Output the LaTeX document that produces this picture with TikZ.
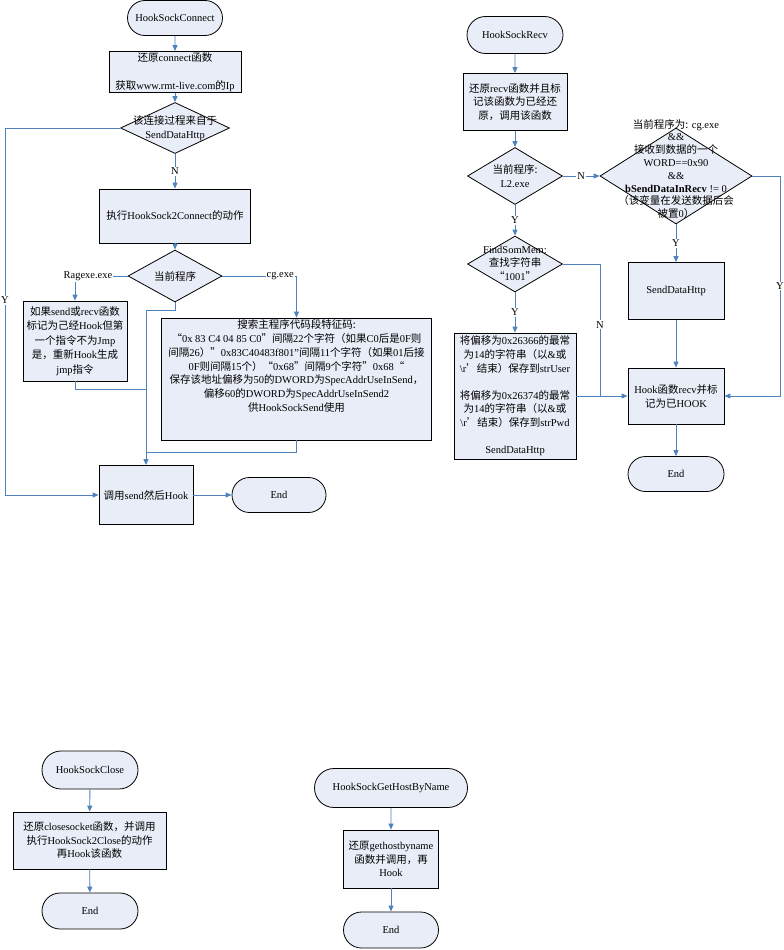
\documentclass[tikz,border=0pt]{standalone}
\usepackage{fontspec}
\setmainfont{Liberation Serif}
\newfontfamily\cjk{Noto Sans CJK SC}
\usetikzlibrary{shapes.geometric,shapes.misc,arrows.meta}
\definecolor{boxfill}{RGB}{232,237,247}
\definecolor{lineblue}{RGB}{79,129,189}
\newcommand\zhf[1]{{\cjk #1}}
\newcommand\fsz[1]{\fontsize{10.5}{#1}\selectfont}
\tikzset{
  shp/.style={draw=black, line width=0.8pt, fill=boxfill, inner sep=0pt},
  term/.style={shp, rounded rectangle},
  proc/.style={shp, rectangle, align=center},
  dec/.style={shp, diamond},
  txt/.style={align=center, inner sep=0pt, font=\fsz{13.5}},
  conn/.style={draw=lineblue, line width=0.9pt},
  arr/.style={conn, -{Triangle[length=6pt,width=5pt]}},
  lab/.style={fill=white, inner sep=1pt, font=\fsz{12}},
}
\begin{document}
\begin{tikzpicture}[x=1pt,y=-1pt, font=\fsz{13.5}]
\useasboundingbox[fill=white] (0,0) rectangle (784,950);

% ---------------- HookSockConnect ----------------
\node[term, minimum width=95pt, minimum height=35pt] (s1) at (175,18) {HookSockConnect};
\node[proc, minimum width=132pt, minimum height=41pt, font=\fsz{14}] (b1) at (175,72)
  {\zhf{还原}connect\zhf{函数}\\[14pt]\zhf{获取}www.rmt-live.com\zhf{的}Ip};
\node[dec, minimum width=109pt, minimum height=51pt] (d1) at (175,128) {};
\node[txt] (d1t) at (175,128) {\zhf{该连接过程来自于}\\SendDataHttp};
\node[proc, minimum width=151pt, minimum height=54pt] (b2) at (175,216) {\zhf{执行}HookSock2Connect\zhf{的动作}};
\node[dec, minimum width=94pt, minimum height=52pt] (d2) at (175,276) {};
\node[txt] (d2t) at (175,276) {\zhf{当前程序}};
\node[proc, minimum width=104pt, minimum height=80pt, font=\fsz{14.5}] (b3) at (75,341)
  {\zhf{如果}send\zhf{或}recv\zhf{函数}\\\zhf{标记为己经}Hook\zhf{但第}\\\zhf{一个指令不为}Jmp\\\zhf{是，重新}Hook\zhf{生成}\\jmp\zhf{指令}};
\node[proc, minimum width=270pt, minimum height=122pt] (b4) at (296.5,379) {};
\node[txt, font=\fsz{13.8}] (b4t) at (296.5,366)
  {\zhf{搜索主程序代码段特征码:}\\
   \zhf{“}0x 83 C4 04 85 C0\zhf{”间隔}22\zhf{个字符（如果}C0\zhf{后是}0F\zhf{则}\\
   \zhf{间隔}26\zhf{）”}0x83C40483f801"\zhf{间隔}11\zhf{个字符（如果}01\zhf{后接}\\
   0F\zhf{则间隔}15\zhf{个）“}0x68\zhf{”间隔}9\zhf{个字符”}0x68\zhf{“}\\
   \zhf{保存该地址偏移为}50\zhf{的}DWORD\zhf{为}SpecAddrUseInSend\zhf{，}\\
   \zhf{偏移}60\zhf{的}DWORD\zhf{为}SpecAddrUseInSend2\\
   \zhf{供}HookSockSend\zhf{使用}};
\node[proc, minimum width=94pt, minimum height=59pt] (b5) at (146,495) {\zhf{调用}send\zhf{然后}Hook};
\node[term, minimum width=94pt, minimum height=35pt] (e1) at (279,495) {End};
\coordinate (c1) at (5,128);
\coordinate (j1) at (146,389);
\coordinate (j2) at (146,452);

\draw[arr] (s1) -- (b1);
\draw[arr] (b1) -- (d1);
\draw[arr] (d1) -- node[lab]{N} (b2);
\draw[arr] (b2) -- (d2);
\draw[arr] (d2.west) -| node[lab, pos=0.377]{Ragexe.exe} (b3.north);
\draw[arr] (d2.east) -| node[lab, pos=0.39]{cg.exe} (b4.north);
\draw[arr] (d2.south) -- ++(0,8) -| (b5.north);
\draw[conn] (b3.south) |- (j1);
\draw[conn] (b4.south) |- (j2);
\draw[arr] (d1.west) -- (c1) |- node[lab, pos=0.235]{Y} (b5.west);
\draw[arr] (b5) -- (e1);

% ---------------- HookSockRecv ----------------
\node[term, minimum width=96pt, minimum height=37pt] (s2) at (515,35) {HookSockRecv};
\node[proc, minimum width=104pt, minimum height=57pt] (r1) at (515,102)
  {\zhf{还原}recv\zhf{函数并且标}\\\zhf{记该函数为已经还}\\\zhf{原，调用该函数}};
\node[dec, minimum width=95pt, minimum height=57pt] (rd1) at (515,176) {};
\node[txt] (rd1t) at (515,176) {\zhf{当前程序:}\\L2.exe};
\node[dec, minimum width=152pt, minimum height=96pt] (rd2) at (676,176) {};
\node[txt, font=\fsz{12.8}] (rd2t) at (676,169)
  {\zhf{当前程序为:} cg.exe\\\&\&\\\zhf{接收到数据的一个}\\WORD==0x90\\\&\&\\\textbf{bSendDataInRecv} != 0\\\zhf{（该变量在发送数据后会}\\\zhf{被置}0\zhf{）}};
\node[dec, minimum width=95pt, minimum height=56pt] (rd3) at (515,264) {};
\node[txt] (rd3t) at (515,263) {FindSomMem:\\\zhf{查找字符串}\\\zhf{“}1001\zhf{”}};
\node[proc, minimum width=122pt, minimum height=126pt, font=\fsz{13.6}] (r4) at (515,396)
  {\zhf{将偏移为}0x26366\zhf{的最常}\\\zhf{为}14\zhf{的字符串（以}\&\zhf{或}\\\textbackslash r\zhf{’结束）保存到}strUser\\[13.6pt]
   \zhf{将偏移为}0x26374\zhf{的最常}\\\zhf{为}14\zhf{的字符串（以}\&\zhf{或}\\\textbackslash r\zhf{’结束）保存到}strPwd\\[13.6pt]SendDataHttp};
\node[proc, minimum width=96pt, minimum height=57pt] (sdh) at (676,291) {SendDataHttp};
\node[proc, minimum width=96pt, minimum height=56pt, font=\fsz{14}] (hk) at (676,396) {Hook\zhf{函数}recv\zhf{并标}\\\zhf{记为已}HOOK};
\node[term, minimum width=96pt, minimum height=35pt] (e2) at (676,474) {End};
\coordinate (c2) at (780,176);
\coordinate (j3) at (600,396);

\draw[arr] (s2) -- (r1);
\draw[arr] (r1) -- (rd1);
\draw[arr] (rd1) -- node[lab]{N} (rd2);
\draw[arr] (rd1) -- node[lab]{Y} (rd3);
\draw[arr] (rd2) -- node[lab]{Y} (sdh);
\draw[arr] (rd2.east) -- (c2) |- node[lab, pos=0.25]{Y} (hk.east);
\draw[arr] (sdh) -- (hk);
\draw[arr] (rd3) -- node[lab]{Y} (r4);
\draw[conn] (rd3.east) -| node[lab, pos=0.73]{N} (j3);
\draw[arr] (r4.east) -- (hk.west);
\draw[arr] (hk) -- (e2);

% ---------------- HookSockClose ----------------
\node[term, minimum width=96pt, minimum height=38pt] (s3) at (90,770) {HookSockClose};
\node[proc, minimum width=153pt, minimum height=57pt] (cb) at (89.5,840.5)
  {\zhf{还原}closesocket\zhf{函数，并调用}\\\zhf{执行}HookSock2Close\zhf{的动作}\\\zhf{再}Hook\zhf{该函数}};
\node[term, minimum width=96pt, minimum height=36pt] (e3) at (90,911) {End};
\draw[arr] (s3) -- (cb);
\draw[arr] (cb) -- (e3);

% ---------------- HookSockGetHostByName ----------------
\node[term, minimum width=153pt, minimum height=39pt] (s4) at (391,788) {HookSockGetHostByName};
\node[proc, minimum width=95pt, minimum height=58pt] (gb) at (391,859)
  {\zhf{还原}gethostbyname\\\zhf{函数并调用，再}\\Hook};
\node[term, minimum width=95pt, minimum height=36pt] (e4) at (391,930) {End};
\draw[arr] (s4) -- (gb);
\draw[arr] (gb) -- (e4);
\end{tikzpicture}
\end{document}
